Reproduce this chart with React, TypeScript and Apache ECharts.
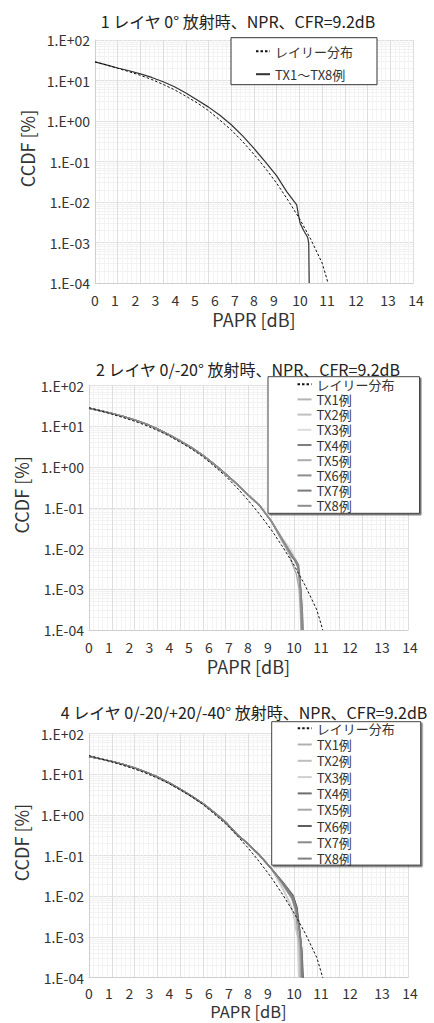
import React, { useEffect, useRef } from "react";
import * as echarts from "echarts";

// ---- tick labels ----
const X_TICK_LABELS = ["0", "1", "2", "3", "4", "5", "6", "7", "8", "9", "10", "11", "12", "13", "14"];
const Y_TICK_LABELS = ["1.E-04", "1.E-03", "1.E-02", "1.E-01", "1.E+00", "1.E+01", "1.E+02"];

// ---- titles and legend names ----
const TITLES = [
  "1 レイヤ 0° 放射時、NPR、CFR=9.2dB",
  "2 レイヤ 0/-20° 放射時、NPR、CFR=9.2dB",
  "4 レイヤ 0/-20/+20/-40° 放射時、NPR、CFR=9.2dB",
];
const RAYLEIGH_NAME = "レイリー分布";
const L1_TX_NAME = "TX1～TX8例";
const TX_NAMES = ["TX1例", "TX2例", "TX3例", "TX4例", "TX5例", "TX6例", "TX7例", "TX8例"];

// ---- series values: [PAPR dB, CCDF %] ----
const RAYLEIGH: [number, number][] = [
  [0, 28.7], [0.5, 24.2], [1, 20.0], [1.5, 16.5], [2, 13.4], [2.5, 10.6], [3, 8.0],
  [3.5, 5.9], [4, 4.1], [4.5, 2.8], [5, 1.8], [5.5, 1.05], [6, 0.6], [6.5, 0.31],
  [7, 0.15], [7.5, 0.068], [8, 0.029], [8.5, 0.011], [9, 0.0039], [9.5, 0.0012],
  [10, 0.00031], [10.26, 0.0001],
];

const L1_TX_ALL: [number, number][] = [
  [0, 28.7], [0.5, 24.3], [1, 20.4], [1.5, 17.4], [2, 14.6], [2.5, 11.9], [3, 9.3],
  [3.5, 7.0], [4, 4.9], [4.5, 3.3], [5, 2.2], [5.5, 1.38], [6, 0.81], [6.5, 0.43],
  [7, 0.21], [7.5, 0.098], [8, 0.044], [8.44, 0.018], [8.88, 0.0085], [8.95, 0.005],
  [9.03, 0.003], [9.18, 0.002], [9.36, 0.00135], [9.41, 0.00095], [9.43, 0.0001],
];

const L2_BODY: [number, number][] = [
  [0, 27.9], [0.5, 24.3], [1, 20.9], [1.5, 17.6], [2, 14.5], [2.5, 11.5], [3, 8.7],
  [3.5, 6.3], [4, 4.4], [4.5, 3.0], [5, 1.95], [5.5, 1.17], [6, 0.68], [6.5, 0.38],
  [7, 0.204], [7.5, 0.112], [8, 0.047],
];
const L2_TAILS: [number, number][][] = [
  [[8.5, 0.0166], [8.9, 0.0076], [9.1, 0.005], [9.2, 0.0028], [9.28, 0.001], [9.33, 0.00025], [9.35, 0.0001]],
  [[8.5, 0.0158], [8.8, 0.0089], [9.0, 0.006], [9.15, 0.004], [9.25, 0.00126], [9.3, 0.00032], [9.32, 0.0001]],
  [[8.5, 0.0178], [8.85, 0.01], [9.1, 0.005], [9.2, 0.0025], [9.3, 0.0005], [9.32, 0.0001]],
  [[8.5, 0.0151], [8.9, 0.0063], [9.15, 0.0042], [9.25, 0.0018], [9.35, 0.0004], [9.4, 0.0001]],
  [[8.5, 0.0141], [8.8, 0.0071], [8.95, 0.0038], [9.1, 0.0024], [9.22, 0.001], [9.28, 0.00025], [9.3, 0.0001]],
  [[8.5, 0.0166], [8.95, 0.0063], [9.2, 0.004], [9.28, 0.0014], [9.35, 0.00032], [9.38, 0.0001]],
  [[8.5, 0.0158], [9.0, 0.0056], [9.2, 0.0032], [9.3, 0.0008], [9.33, 0.00016], [9.35, 0.0001]],
  [[8.5, 0.0162], [8.9, 0.0071], [9.12, 0.0048], [9.22, 0.002], [9.3, 0.00063], [9.36, 0.0001]],
];

const L3_BODY: [number, number][] = [
  [0, 27.2], [0.5, 23.8], [1, 20.6], [1.5, 17.5], [2, 14.3], [2.5, 11.3], [3, 8.6],
  [3.5, 6.2], [4, 4.3], [4.5, 2.9], [5, 1.9], [5.5, 1.15], [6, 0.66], [6.5, 0.33],
  [7, 0.19], [7.5, 0.1], [8, 0.048],
];
const L3_TAILS: [number, number][][] = [
  [[8.5, 0.019], [8.9, 0.0089], [9.1, 0.005], [9.22, 0.0016], [9.3, 0.0005], [9.33, 0.0001]],
  [[8.5, 0.0158], [8.82, 0.0068], [8.96, 0.004], [9.1, 0.0014], [9.2, 0.0008], [9.22, 0.0001]],
  [[8.5, 0.0151], [8.85, 0.006], [9.0, 0.0032], [9.15, 0.0011], [9.2, 0.0001]],
  [[8.5, 0.0224], [8.96, 0.0105], [9.11, 0.0056], [9.25, 0.0014], [9.33, 0.0005], [9.38, 0.0001]],
  [[8.5, 0.02], [8.9, 0.0089], [9.05, 0.0045], [9.18, 0.0011], [9.25, 0.00063], [9.28, 0.0001]],
  [[8.5, 0.0219], [8.96, 0.01], [9.13, 0.0052], [9.26, 0.0013], [9.35, 0.0004], [9.4, 0.0001]],
  [[8.5, 0.0214], [8.95, 0.0095], [9.1, 0.005], [9.24, 0.0014], [9.33, 0.00056], [9.36, 0.0001]],
  [[8.5, 0.0204], [8.92, 0.0089], [9.08, 0.0048], [9.22, 0.0016], [9.3, 0.00063], [9.34, 0.0001]],
];

// ---- styles ----
const FONT = "'Noto Sans CJK JP', 'Noto Sans', sans-serif";
const TEXT = "#333";
const L2_COLORS = ["#b4b4b4", "#c0c0c0", "#dcdcdc", "#7f7f7f", "#ababab", "#8c8c8c", "#7a7a7a", "#8e8e8e"];
const L3_COLORS = ["#b0b0b0", "#bdbdbd", "#d0d0d0", "#6e6e6e", "#a8a8a8", "#5e5e5e", "#8a8a8a", "#808080"];

// horizontal placement of the PAPR tick labels, px from the left edge of the plot
const X_LABEL_POS = [0, 20, 40.5, 60.5, 80.5, 100, 120, 140, 159, 179, 205, 232, 261, 293, 321];

type Panel = {
  grid: { left: number; top: number; width: number; height: number };
  titleX: number;
  titleTop: number;
  legend: {
    left: number;
    top: number;
    padding: number[];
    itemGap: number;
    itemHeight: number;
    borderColor: string;
    shadow: boolean;
  };
  yNameGap: number;
  xNameGap: number;
  xNameSize: number;
  xLabelMargin: number;
};

const PANELS: Panel[] = [
  {
    grid: { left: 95, top: 40, width: 318, height: 243 },
    titleX: 238,
    titleTop: 13,
    legend: { left: 231, top: 37.7, padding: [7, 24, 4, 24], itemGap: 10, itemHeight: 14, borderColor: "#333", shadow: false },
    yNameGap: 46,
    xNameGap: 27,
    xNameSize: 18,
    xLabelMargin: 10,
  },
  {
    grid: { left: 89, top: 385.7, width: 319, height: 244.3 },
    titleX: 248,
    titleTop: 360.5,
    legend: { left: 268, top: 376.7, padding: [1, 25, 1, 28.5], itemGap: 2.2, itemHeight: 13, borderColor: "#444", shadow: true },
    yNameGap: 53,
    xNameGap: 27,
    xNameSize: 18,
    xLabelMargin: 10,
  },
  {
    grid: { left: 89, top: 733.5, width: 319, height: 244.2 },
    titleX: 244,
    titleTop: 703.5,
    legend: { left: 271.7, top: 721.7, padding: [0, 26, 0, 25], itemGap: 3.3, itemHeight: 13, borderColor: "#444", shadow: true },
    yNameGap: 53,
    xNameGap: 25,
    xNameSize: 16.5,
    xLabelMargin: 8,
  },
];

function xLabelRich(width: number) {
  const step = width / 14;
  const rich: Record<string, any> = {};
  X_LABEL_POS.forEach((p, i) => {
    const d = p - i * step;
    rich["t" + i] = {
      fontSize: 14,
      fontFamily: FONT,
      color: TEXT,
      padding: d < 0 ? [0, -2 * d, 0, 0] : [0, 0, 0, 2 * d],
    };
  });
  return rich;
}

const key = (k: number, name: string) => `p${k}|${name}`;

function buildOption() {
  const series: any[] = [];
  const legends: any[] = [];

  PANELS.forEach((p, k) => {
    series.push({
      type: "line",
      name: key(k, RAYLEIGH_NAME),
      xAxisIndex: k,
      yAxisIndex: k,
      data: RAYLEIGH,
      symbol: "none",
      silent: true,
      z: 4,
      itemStyle: { color: "#111" },
      lineStyle: { color: "#111", width: 1, type: [2.5, 2] },
    });
    const names = [key(k, RAYLEIGH_NAME)];
    if (k === 0) {
      series.push({
        type: "line",
        name: key(k, L1_TX_NAME),
        xAxisIndex: k,
        yAxisIndex: k,
        data: L1_TX_ALL,
        symbol: "none",
        silent: true,
        z: 3,
        itemStyle: { color: "#333" },
        lineStyle: { color: "#333", width: 1.2 },
      });
      names.push(key(k, L1_TX_NAME));
    } else {
      const body = k === 1 ? L2_BODY : L3_BODY;
      const tails = k === 1 ? L2_TAILS : L3_TAILS;
      const colors = k === 1 ? L2_COLORS : L3_COLORS;
      TX_NAMES.forEach((n, i) => {
        series.push({
          type: "line",
          name: key(k, n),
          xAxisIndex: k,
          yAxisIndex: k,
          data: [...body, ...tails[i]],
          symbol: "none",
          silent: true,
          z: 3,
          itemStyle: { color: colors[i] },
          lineStyle: { color: colors[i], width: 1.4 },
        });
        names.push(key(k, n));
      });
    }
    legends.push({
      data: names,
      orient: "vertical",
      left: p.legend.left,
      top: p.legend.top,
      padding: p.legend.padding,
      itemGap: p.legend.itemGap,
      itemWidth: 14,
      itemHeight: p.legend.itemHeight,
      // line-only keys: the marker symbol is hidden
      itemStyle: { opacity: 0, borderWidth: 0 },
      backgroundColor: "#fff",
      borderColor: p.legend.borderColor,
      borderWidth: 1,
      shadowColor: p.legend.shadow ? "rgba(0,0,0,0.55)" : "transparent",
      shadowOffsetX: p.legend.shadow ? 1.5 : 0,
      shadowOffsetY: p.legend.shadow ? 1.5 : 0,
      shadowBlur: 0,
      selectedMode: false,
      formatter: (name: string) => name.split("|")[1],
      textStyle: { fontSize: 13, lineHeight: 13, color: TEXT, fontFamily: FONT },
    });
  });

  return {
    animation: false,
    backgroundColor: "#fff",
    title: PANELS.map((p, k) => ({
      text: TITLES[k],
      left: p.titleX,
      top: p.titleTop,
      textAlign: "center",
      padding: 0,
      textStyle: { fontSize: 16, fontWeight: "normal", color: "#222", fontFamily: FONT },
    })),
    legend: legends,
    grid: PANELS.map((p) => ({ ...p.grid, containLabel: false, outerBoundsMode: "none" })),
    xAxis: PANELS.map((p, k) => ({
      type: "value",
      gridIndex: k,
      min: 0,
      max: 14,
      interval: 1,
      axisLine: { show: true, onZero: false, lineStyle: { color: "#cfcfcf", width: 1 } },
      axisTick: { show: false },
      axisLabel: {
        margin: p.xLabelMargin,
        formatter: (v: number) => {
          const i = Math.round(v);
          return `{t${i}|${X_TICK_LABELS[i]}}`;
        },
        rich: xLabelRich(p.grid.width),
      },
      splitLine: { show: true, lineStyle: { color: "#dedede", width: 1 } },
      minorTick: { show: false, splitNumber: 5 },
      minorSplitLine: { show: true, lineStyle: { color: "#f3f3f3", width: 1 } },
      name: "PAPR [dB]",
      nameLocation: "middle",
      nameGap: p.xNameGap,
      nameTextStyle: { fontSize: p.xNameSize, lineHeight: p.xNameSize, color: TEXT, fontFamily: FONT },
    })),
    yAxis: PANELS.map((p, k) => ({
      type: "log",
      gridIndex: k,
      logBase: 10,
      min: 0.0001,
      max: 100,
      splitNumber: 6,
      axisLine: { show: true, lineStyle: { color: "#cfcfcf", width: 1 } },
      axisTick: { show: false },
      axisLabel: {
        margin: 5,
        fontSize: 14,
        color: TEXT,
        fontFamily: FONT,
        formatter: (v: number) => Y_TICK_LABELS[Math.round(Math.log10(v)) + 4] ?? "",
      },
      splitLine: { show: true, lineStyle: { color: "#e0e0e0", width: 1 } },
      minorTick: { show: false, splitNumber: 9 },
      minorSplitLine: { show: true, lineStyle: { color: "#f2f2f2", width: 1 } },
      name: "CCDF [%]",
      nameLocation: "middle",
      nameGap: p.yNameGap,
      nameTextStyle: { fontSize: 18, lineHeight: 18, color: TEXT, fontFamily: FONT, padding: [0, 0, 0, 26] },
    })),
    series,
  };
}

export default function App() {
  const ref = useRef<HTMLDivElement>(null);

  useEffect(() => {
    if (!ref.current) return;
    const chart = echarts.init(ref.current, undefined, { renderer: "svg" });
    chart.setOption(buildOption() as any);
    return () => chart.dispose();
  }, []);

  return (
    <div
      ref={ref}
      style={{ position: "absolute", left: 0, top: 0, width: 434, height: 1023, background: "#fff" }}
    />
  );
}
